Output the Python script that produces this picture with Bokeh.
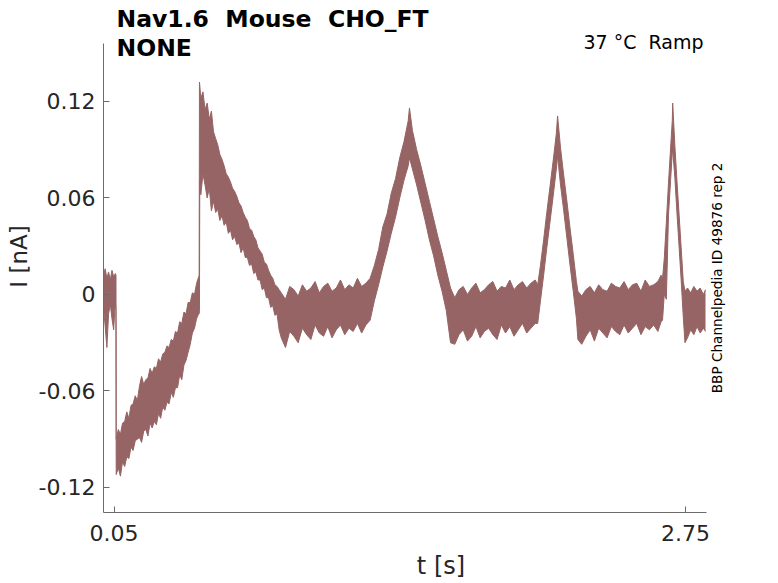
import math
from bokeh.plotting import figure
from bokeh.models import Range1d, FixedTicker, Label
from bokeh.embed import file_html
from bokeh.resources import INLINE

# ---------------- data ----------------
# time [s] and the upper / lower envelope of the noisy current trace [nA]
t_s = [
    # holding before the ramp
    0.000, 0.008, 0.016, 0.024, 0.032, 0.040, 0.048, 0.056, 0.059,
    # drop and slow recovery
    0.060, 0.070, 0.080, 0.090, 0.100, 0.110, 0.120, 0.130, 0.140, 0.150,
    0.160, 0.170, 0.180, 0.190, 0.200, 0.210, 0.220, 0.230, 0.240, 0.250,
    0.260, 0.270, 0.280, 0.290, 0.300, 0.310, 0.320, 0.330, 0.340, 0.350,
    0.360, 0.370, 0.380, 0.390, 0.400, 0.410, 0.420, 0.430, 0.440, 0.450,
    0.452,
    # jump and decay
    0.4535, 0.455, 0.460, 0.470, 0.480, 0.490, 0.500, 0.510, 0.520, 0.530,
    0.540, 0.550, 0.560, 0.570, 0.580, 0.590, 0.600, 0.610, 0.620, 0.630,
    0.640, 0.650, 0.660, 0.670, 0.680, 0.690, 0.700, 0.710, 0.720, 0.730,
    0.740, 0.750, 0.760, 0.770, 0.780, 0.790, 0.800, 0.810, 0.820, 0.830,
    # flat
    0.840, 0.860, 0.880, 0.900, 0.920, 0.940, 0.960, 0.980, 1.000, 1.020,
    1.040, 1.060, 1.080, 1.100, 1.120, 1.140, 1.160, 1.180, 1.200, 1.220,
    1.240,
    # triangle 1
    1.260, 1.280, 1.300, 1.320, 1.340, 1.360, 1.380, 1.400, 1.420, 1.440,
    1.446,
    1.460, 1.480, 1.500, 1.520, 1.540, 1.560, 1.580, 1.600, 1.620, 1.640,
    # flat
    1.660, 1.680, 1.700, 1.720, 1.740, 1.760, 1.780, 1.800, 1.820, 1.840,
    1.860, 1.880, 1.900, 1.920, 1.940, 1.960, 1.980, 2.000, 2.020, 2.040,
    # triangle 2
    2.052, 2.065, 2.080, 2.095, 2.110, 2.125, 2.140, 2.146,
    2.160, 2.175, 2.190, 2.205, 2.220, 2.235, 2.242,
    # flat
    2.260, 2.280, 2.300, 2.320, 2.340, 2.360, 2.380, 2.400, 2.420, 2.440,
    2.460, 2.480, 2.500, 2.520, 2.540, 2.560, 2.580, 2.600, 2.620, 2.635,
    # triangle 3
    2.642, 2.650, 2.660, 2.670, 2.680, 2.688, 2.690,
    2.700, 2.710, 2.720, 2.730, 2.740, 2.748,
    # flat end
    2.760, 2.775, 2.790, 2.805, 2.820, 2.835, 2.845,
]

i_upper = [
    0.012, 0.016, 0.010, 0.014, 0.009, 0.015, 0.011, 0.013, 0.012,
    -0.090, -0.084, -0.087, -0.080, -0.079, -0.073, -0.077, -0.069, -0.068, -0.063,
    -0.066, -0.057, -0.051, -0.056, -0.053, -0.052, -0.046, -0.049, -0.045, -0.046,
    -0.040, -0.042, -0.037, -0.036, -0.032, -0.033, -0.028, -0.029, -0.023, -0.024,
    -0.017, -0.018, -0.011, -0.012, -0.005, -0.005, 0.001, 0.000, 0.007, 0.011,
    0.012,
    0.132, 0.130, 0.122, 0.126, 0.115, 0.119, 0.109, 0.114, 0.101, 0.097,
    0.093, 0.087, 0.084, 0.080, 0.075, 0.073, 0.070, 0.066, 0.064, 0.061,
    0.057, 0.055, 0.051, 0.048, 0.046, 0.041, 0.040, 0.036, 0.034, 0.029,
    0.027, 0.025, 0.020, 0.019, 0.015, 0.012, 0.010, 0.006, 0.005, 0.003,
    0.001, -0.003, 0.005, 0.003, -0.001, 0.006, 0.002, 0.004, 0.008, 0.001,
    0.005, 0.007, 0.002, 0.004, 0.009, 0.003, 0.006, 0.004, 0.010, 0.005,
    0.007,
    0.010, 0.018, 0.028, 0.042, 0.050, 0.063, 0.072, 0.085, 0.095, 0.108,
    0.116,
    0.102, 0.090, 0.080, 0.069, 0.058, 0.047, 0.036, 0.026, 0.015, 0.004,
    -0.002, 0.003, 0.005, 0.000, 0.004, 0.007, 0.001, 0.003, 0.006, 0.008,
    0.002, 0.005, 0.004, 0.009, 0.003, 0.006, 0.008, 0.004, 0.007, 0.009,
    0.006, 0.018, 0.034, 0.051, 0.067, 0.083, 0.100, 0.111,
    0.091, 0.074, 0.058, 0.041, 0.025, 0.008, 0.002,
    -0.001, 0.003, 0.005, 0.001, 0.006, 0.003, 0.002, 0.007, 0.005, 0.004,
    0.008, 0.003, 0.006, 0.007, 0.002, 0.009, 0.005, 0.006, 0.008, 0.012,
    0.010, 0.022, 0.045, 0.069, 0.091, 0.108, 0.119,
    0.093, 0.071, 0.050, 0.029, 0.008, 0.002,
    0.004, 0.001, 0.005, 0.002, 0.004, 0.000, 0.003,
]

i_lower = [
    -0.008, -0.020, -0.033, -0.012, -0.006, -0.015, -0.022, -0.004, -0.010,
    -0.112, -0.108, -0.113, -0.104, -0.107, -0.101, -0.102, -0.095, -0.097, -0.091,
    -0.090, -0.089, -0.092, -0.085, -0.084, -0.088, -0.080, -0.083, -0.079, -0.081,
    -0.074, -0.077, -0.070, -0.072, -0.067, -0.068, -0.061, -0.064, -0.058, -0.058,
    -0.050, -0.053, -0.044, -0.041, -0.036, -0.031, -0.024, -0.021, -0.015, -0.012,
    -0.012,
    -0.010, 0.070, 0.062, 0.075, 0.068, 0.060, 0.066, 0.052, 0.058, 0.051,
    0.053, 0.046, 0.049, 0.043, 0.045, 0.038, 0.040, 0.034, 0.036, 0.031,
    0.032, 0.026, 0.029, 0.023, 0.023, 0.018, 0.019, 0.013, 0.014, 0.009,
    0.009, 0.003, 0.004, -0.002, -0.002, -0.008, -0.007, -0.013, -0.012, -0.022,
    -0.027, -0.033, -0.023, -0.026, -0.030, -0.021, -0.025, -0.028, -0.019, -0.024,
    -0.026, -0.020, -0.027, -0.022, -0.019, -0.025, -0.021, -0.023, -0.018, -0.024,
    -0.019,
    -0.016, -0.004, 0.006, 0.017, 0.027, 0.038, 0.048, 0.060, 0.071, 0.080,
    0.085,
    0.078, 0.068, 0.057, 0.046, 0.034, 0.024, 0.012, 0.002, -0.010, -0.030,
    -0.031, -0.025, -0.022, -0.029, -0.026, -0.020, -0.027, -0.023, -0.021, -0.025,
    -0.028, -0.019, -0.024, -0.020, -0.026, -0.022, -0.018, -0.024, -0.021, -0.018,
    -0.018, -0.004, 0.012, 0.029, 0.045, 0.061, 0.078, 0.086,
    0.068, 0.052, 0.035, 0.018, 0.002, -0.015, -0.028,
    -0.031, -0.026, -0.022, -0.029, -0.021, -0.024, -0.027, -0.020, -0.023, -0.025,
    -0.019, -0.024, -0.021, -0.018, -0.025, -0.020, -0.022, -0.019, -0.023, -0.017,
    -0.016, 0.000, -0.003, 0.049, 0.071, 0.088, 0.090,
    0.073, 0.051, 0.030, 0.009, -0.014, -0.030,
    -0.027, -0.022, -0.025, -0.020, -0.024, -0.021, -0.023,
]

assert len(t_s) == len(i_upper) == len(i_lower)

x_ticks = [0.05, 2.75]
x_tick_labels = ["0.05", "2.75"]
y_ticks = [-0.12, -0.06, 0, 0.06, 0.12]
y_tick_labels = ["-0.12", "-0.06", "0", "0.06", "0.12"]

# double gaps are kept with a no-break space (SVG collapses plain double spaces)
title_line1 = "Nav1.6\u00a0 Mouse\u00a0 CHO_FT"
title_line2 = "NONE"
condition_text = "37 °C\u00a0 Ramp"
source_text = "BBP Channelpedia ID 49876 rep 2"
x_label = "t [s]"
y_label = "I [nA]"

# axis extents (drawn part of the axes) and the visible view
X_MIN, X_MAX = 0.0, 2.85
Y_MIN, Y_MAX = -0.1356, 0.156
X_VIEW_END = 3.19
Y_VIEW_END = 0.1828

# ---------------- styling ----------------
TRACE = "#966464"
FONT = "DejaVu Sans"
TXT = "#262626"
AXC = "#6b6b6b"

p = figure(width=778, height=583, output_backend="svg", toolbar_location=None,
           title_location=None,
           x_range=Range1d(X_MIN, X_VIEW_END), y_range=Range1d(Y_MIN, Y_VIEW_END),
           min_border_left=103, min_border_right=0,
           min_border_top=0, min_border_bottom=71)
p.outline_line_color = None
p.xgrid.visible = False
p.ygrid.visible = False
p.background_fill_color = "white"
p.border_fill_color = "white"

p.varea(x=t_s, y1=i_lower, y2=i_upper, fill_color=TRACE)
p.line(t_s, i_upper, line_color=TRACE, line_width=1)
p.line(t_s, i_lower, line_color=TRACE, line_width=1)

for ax in (p.xaxis[0], p.yaxis[0]):
    ax.axis_line_color = AXC
    ax.major_tick_line_color = AXC
    ax.minor_tick_line_color = None
    ax.major_tick_in = 6
    ax.major_tick_out = 0
    ax.major_label_text_font = FONT
    ax.major_label_text_font_size = "22px"
    ax.major_label_text_color = TXT
    ax.axis_label_text_font = FONT
    ax.axis_label_text_font_style = "normal"
    ax.axis_label_text_color = TXT

xa = p.xaxis[0]
xa.bounds = (X_MIN, X_MAX)
xa.ticker = FixedTicker(ticks=x_ticks)
xa.major_label_overrides = dict(zip(x_ticks, x_tick_labels))
xa.axis_label = x_label
xa.axis_label_text_font_size = "24px"
xa.major_label_standoff = 12
xa.axis_label_standoff = 8

ya = p.yaxis[0]
ya.bounds = (Y_MIN, Y_MAX)
ya.ticker = FixedTicker(ticks=y_ticks)
ya.major_label_overrides = dict(zip(y_ticks, y_tick_labels))
ya.axis_label = y_label
ya.axis_label_text_font_size = "23px"
ya.major_label_standoff = 8
ya.axis_label_standoff = 4

p.add_layout(Label(x=X_MIN, y=Y_MAX, x_offset=13, y_offset=25, text=title_line1,
                   text_font=FONT, text_font_style="bold", text_font_size="23.5px",
                   text_color="black", text_align="left", text_baseline="middle"))
p.add_layout(Label(x=X_MIN, y=Y_MAX, x_offset=13, y_offset=-4, text=title_line2,
                   text_font=FONT, text_font_style="bold", text_font_size="23.5px",
                   text_color="black", text_align="left", text_baseline="middle"))
p.add_layout(Label(x=X_MAX, y=Y_MAX, x_offset=-3, y_offset=2, text=condition_text,
                   text_font=FONT, text_font_size="19px", text_color="black",
                   text_align="right", text_baseline="middle"))
p.add_layout(Label(x=X_MAX, y=0.0103, x_offset=10, angle=math.pi / 2, text=source_text,
                   text_font=FONT, text_font_size="13.6px", text_color="black",
                   text_align="center", text_baseline="middle"))

open("out.html", "w").write(file_html(p, INLINE))
